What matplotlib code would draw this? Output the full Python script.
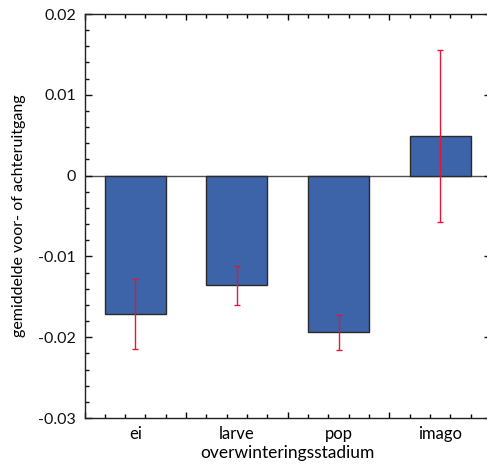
import numpy as np
import matplotlib.pyplot as plt
from matplotlib.ticker import FixedLocator, MultipleLocator, NullFormatter

plt.rcParams['font.family'] = ['Lato', 'DejaVu Sans']

# Data
stadia = ['ei', 'larve', 'pop', 'imago']
gemiddelde = [-0.0171, -0.0136, -0.0194, 0.0049]
fout = [0.0043, 0.0024, 0.0022, 0.0107]
y_ticks = [-0.03, -0.02, -0.01, 0, 0.01, 0.02]
y_labels = ['-0.03', '-0.02', '-0.01', '0', '0.01', '0.02']

fig = plt.figure(figsize=(4.87, 4.65), dpi=100)
ax = fig.add_axes([84.5 / 487, 47 / 465, 406.5 / 487, 404 / 465])

x = np.arange(len(stadia))
ax.axhline(0, color='#505050', lw=1, zorder=1)
ax.bar(x, gemiddelde, width=0.6, color='#3D64A8', edgecolor='#2a2a2a', lw=1, zorder=2)
ax.errorbar(x, gemiddelde, yerr=fout, fmt='none', ecolor='#E3163A', elinewidth=1,
            capsize=2.5, capthick=1, zorder=3)

ax.set_xlim(-0.5, 3.5)
ax.set_ylim(-0.03, 0.02)

# y-as
ax.yaxis.set_major_locator(FixedLocator(y_ticks))
ax.set_yticklabels(y_labels)
ax.yaxis.set_minor_locator(MultipleLocator(0.002))
ax.tick_params(axis='y', which='both', direction='in', left=True, right=True,
               labelsize=11.5, colors='#111111', pad=6)
ax.tick_params(axis='y', which='major', length=5, width=1)
ax.tick_params(axis='y', which='minor', length=3, width=1)

# x-as: grenzen en onderverdeling
ax.xaxis.set_major_locator(FixedLocator([-0.5, 0.5, 1.5, 2.5, 3.5]))
ax.xaxis.set_major_formatter(NullFormatter())
ax.xaxis.set_minor_locator(MultipleLocator(0.2, offset=0.1))
ax.tick_params(axis='x', which='both', direction='in', top=True, bottom=True)
ax.tick_params(axis='x', which='major', length=4.5, width=1)
ax.tick_params(axis='x', which='minor', length=3, width=1)

for s in ax.spines.values():
    s.set_color('#222222')
    s.set_linewidth(1)

sec = ax.secondary_xaxis('bottom')
sec.set_xticks(x, stadia)
sec.tick_params(length=0, labelsize=12, pad=6)
sec.spines['bottom'].set_visible(False)
sec.set_xlabel('overwinteringsstadium', fontsize=12.5, labelpad=2)

ax.set_ylabel('gemiddelde voor- of achteruitgang', fontsize=11.5, labelpad=9)

fig.savefig('out.png', dpi=100)
